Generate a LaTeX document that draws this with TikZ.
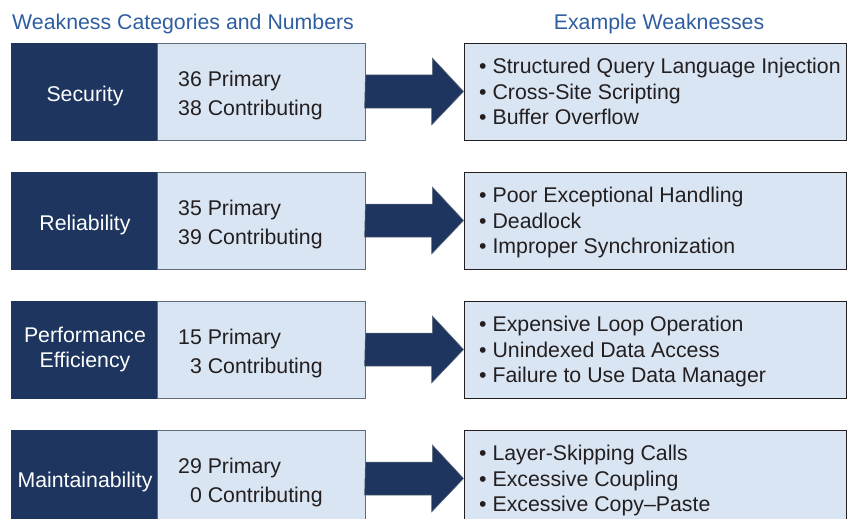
\documentclass[tikz,border=0pt]{standalone}
\usepackage{fontspec}
\setmainfont{Liberation Sans}
\definecolor{navy}{HTML}{1E365F}
\definecolor{pale}{HTML}{D9E5F3}
\definecolor{ink}{HTML}{231F20}
\definecolor{rim}{HTML}{5F6B7A}
\definecolor{headblue}{HTML}{2E5EA0}
\newcommand{\bodyfont}{\fontsize{21.3pt}{25.3pt}\selectfont}
\begin{document}
\begin{tikzpicture}[x=1pt,y=-1pt,
    font=\bodyfont,
    cat/.style={draw=navy,fill=navy,minimum width=146pt,minimum height=97pt,inner sep=0pt},
    num/.style={draw=rim,fill=pale,line width=0.8pt,minimum width=208pt,minimum height=97pt,inner sep=0pt},
    ex/.style={draw=ink,fill=pale,line width=0.8pt,minimum width=382pt,minimum height=97pt,inner sep=0pt},
    lbl/.style={text=white,align=center,anchor=base,inner sep=0pt,font=\fontsize{21.3pt}{24.5pt}\selectfont},
    txt/.style={text=ink,align=left,anchor=base west,inner sep=0pt,font=\fontsize{21.3pt}{29pt}\selectfont},
    list/.style={text=ink,align=left,anchor=base west,inner sep=0pt},
    head/.style={text=headblue,anchor=base,inner sep=0pt},
    bigarrow/.style={fill=navy,draw=rim,line width=0.5pt}]
  \useasboundingbox (0,0) rectangle (857,519);
  \clip (0,0) rectangle (857,519);
  % column titles
  \node[head,anchor=base west] (hleft) at (12,30) {Weakness Categories and Numbers};
  \node[head] (hright) at (659,30) {Example Weaknesses};
  % security
  \node[cat] (c1) at (84,91.5) {};
  \node[num] (n1) at (261,91.5) {};
  \node[ex] (e1) at (655,91.5) {};
  \node[lbl] (c1t) at (85,102) {Security};
  \node[txt] (n1t) at (178,115) {36 Primary\\38 Contributing};
  \node[list] (e1t) at (479,124.5) {• Structured Query Language Injection\\• Cross-Site Scripting\\• Buffer Overflow};
  \draw[bigarrow] (n1.east) ++(0,-16.5) -- ++(67,0) -- ++(0,-17) -- (e1.west)
    -- ++(-32,33.5) -- ++(0,-17) -- ++(-67,0) -- cycle;
  % reliability
  \node[cat] (c2) at (84,220.5) {};
  \node[num] (n2) at (261,220.5) {};
  \node[ex] (e2) at (655,220.5) {};
  \node[lbl] (c2t) at (85,230.5) {Reliability};
  \node[txt] (n2t) at (178,244) {35 Primary\\39 Contributing};
  \node[list] (e2t) at (479,253.5) {• Poor Exceptional Handling\\• Deadlock\\• Improper Synchronization};
  \draw[bigarrow] (n2.east) ++(0,-16.5) -- ++(67,0) -- ++(0,-17) -- (e2.west)
    -- ++(-32,33.5) -- ++(0,-17) -- ++(-67,0) -- cycle;
  % performance efficiency
  \node[cat] (c3) at (84,349.5) {};
  \node[num] (n3) at (261,349.5) {};
  \node[ex] (e3) at (655,349.5) {};
  \node[lbl] (c3t) at (85,367) {Performance\\Efficiency};
  \node[txt] (n3t) at (178,373) {15 Primary\\\phantom{1}3 Contributing};
  \node[list] (e3t) at (479,382.5) {• Expensive Loop Operation\\• Unindexed Data Access\\• Failure to Use Data Manager};
  \draw[bigarrow] (n3.east) ++(0,-16.5) -- ++(67,0) -- ++(0,-17) -- (e3.west)
    -- ++(-32,33.5) -- ++(0,-17) -- ++(-67,0) -- cycle;
  % maintainability
  \node[cat] (c4) at (84,478.5) {};
  \node[num] (n4) at (261,478.5) {};
  \node[ex] (e4) at (655,478.5) {};
  \node[lbl] (c4t) at (85,487) {Maintainability};
  \node[txt] (n4t) at (178,502) {29 Primary\\\phantom{2}0 Contributing};
  \node[list] (e4t) at (479,511.5) {• Layer-Skipping Calls\\• Excessive Coupling\\• Excessive Copy--Paste};
  \draw[bigarrow] (n4.east) ++(0,-16.5) -- ++(67,0) -- ++(0,-17) -- (e4.west)
    -- ++(-32,33.5) -- ++(0,-17) -- ++(-67,0) -- cycle;
\end{tikzpicture}
\end{document}
